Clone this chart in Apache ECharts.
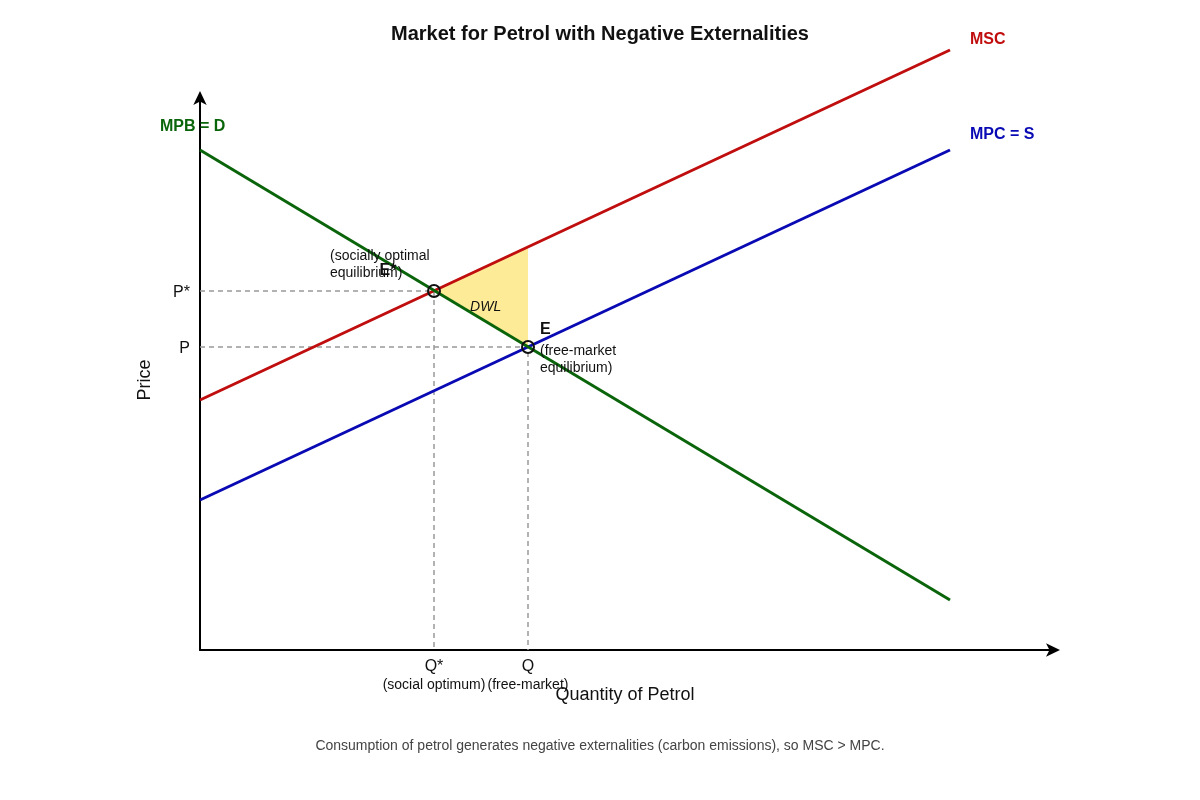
<!DOCTYPE html>
<html><head><meta charset="utf-8">
<script src="https://cdn.jsdelivr.net/npm/echarts@6/dist/echarts.min.js"></script>
<style>html,body{margin:0;padding:0;background:#fff}#c{width:1200px;height:800px}</style>
</head><body><div id="c"></div>
<script>
// ---- data ----
const mpb = [[7.5, 0.5], [0, 5]];      // demand (ordered so the end label sits at the left)
const msc = [[0, 2.5], [7.5, 6]];
const mpc = [[0, 1.5], [7.5, 5]];
const equilibria = [[2.34, 3.59], [3.28, 3.03]];   // E*, E
const eqNames = ['E*', 'E'];
const eqNotes = ['(socially optimal\nequilibrium)', '(free-market\nequilibrium)'];
const dwl = [[2.34, 3.59], [3.28, 4.03], [3.28, 3.03]];
const xTicks = [2.34, 3.28];
const xTickLabels = ['Q*', 'Q'];
const xTickNotes = ['(social optimum)', '(free-market)'];
const yTicks = [3.59, 3.03];
const yTickLabels = ['P*', 'P'];

const FONT = '"Liberation Sans", Arial, sans-serif';
const RED = '#c00d0d', BLUE = '#0a0ab4', GREEN = '#0a650a';

const guideStar = [[0, equilibria[0][1]], [equilibria[0][0], equilibria[0][1]], [equilibria[0][0], 0]];
const guideFree = [[0, equilibria[1][1]], [equilibria[1][0], equilibria[1][1]], [equilibria[1][0], 0]];

const chart = echarts.init(document.getElementById('c'), null, {renderer: 'canvas'});
const dashed = {color: '#999', width: 1.5, type: [5, 4]};

chart.setOption({
  animation: false,
  textStyle: {fontFamily: FONT},
  title: [
    {text: 'Market for Petrol with Negative Externalities', left: 'center', top: 19,
     textStyle: {fontFamily: FONT, fontSize: 20, fontWeight: 'bold', color: '#111'}},
    {text: 'Consumption of petrol generates negative externalities (carbon emissions), so MSC > MPC.',
     left: 'center', top: 734, textStyle: {fontFamily: FONT, fontSize: 14, fontWeight: 'normal', color: '#444'}}
  ],
  grid: {left: 200, top: 100, width: 850, height: 550, containLabel: false},
  xAxis: {
    type: 'value', min: 0, max: 8.5,
    name: 'Quantity of Petrol', nameLocation: 'middle', nameGap: 36, nameMoveOverlap: false,
    nameTextStyle: {fontFamily: FONT, fontSize: 18, color: '#111'},
    axisLine: {show: true, onZero: false, symbol: ['none', 'arrow'], symbolSize: [10, 14], symbolOffset: [0, 10],
               lineStyle: {color: '#000', width: 2}},
    axisTick: {show: false}, splitLine: {show: false},
    axisLabel: {
      customValues: xTicks, margin: 8, showMinLabel: true, showMaxLabel: true, hideOverlap: false,
      formatter: v => { const i = xTicks.indexOf(v); return i < 0 ? '' : '{a|' + xTickLabels[i] + '}\n{b|' + xTickNotes[i] + '}'; },
      rich: {a: {fontFamily: FONT, fontSize: 16, color: '#111', lineHeight: 18},
             b: {fontFamily: FONT, fontSize: 14, color: '#111', lineHeight: 18}}
    }
  },
  yAxis: {
    type: 'value', min: 0, max: 5.5,
    name: 'Price', nameLocation: 'middle', nameGap: 46, nameRotate: 90,
    nameTextStyle: {fontFamily: FONT, fontSize: 18, color: '#111', padding: [0, 10, 0, 0]},
    axisLine: {show: true, onZero: false, symbol: ['none', 'arrow'], symbolSize: [10, 14], symbolOffset: [0, 9],
               lineStyle: {color: '#000', width: 2}},
    axisTick: {show: false}, splitLine: {show: false},
    axisLabel: {
      customValues: yTicks, margin: 10, hideOverlap: false,
      formatter: v => { const i = yTicks.indexOf(v); return i < 0 ? '' : '{p|' + yTickLabels[i] + '}'; },
      rich: {p: {fontFamily: FONT, fontSize: 16, color: '#111', padding: [4, 0, 0, 0]}}
    }
  },
  series: [
    {type: 'custom', name: 'DWL', clip: false, z: 1, data: [dwl[0]],
     renderItem: (params, api) => {
       const pts = dwl.map(p => api.coord(p));
       const cx = (pts[0][0] + pts[1][0] + pts[2][0]) / 3, cy = (pts[0][1] + pts[1][1] + pts[2][1]) / 3;
       return {type: 'group', children: [
         {type: 'polygon', shape: {points: pts}, style: {fill: '#fdeb97'}},
         {type: 'text', x: cx - 11, y: cy + 12, style: {text: 'DWL', font: 'italic 14px ' + FONT, fill: '#111', align: 'center', verticalAlign: 'middle'}}
       ]};
     }},
    {type: 'line', data: guideStar, showSymbol: false, lineStyle: dashed, z: 2, silent: true},
    {type: 'line', data: guideFree, showSymbol: false, lineStyle: dashed, z: 2, silent: true},
    {type: 'line', name: 'MSC', data: msc, showSymbol: false, clip: false, z: 3, lineStyle: {color: RED, width: 3},
     endLabel: {show: true, formatter: 'MSC', offset: [12, -10], color: RED, fontFamily: FONT, fontSize: 16, fontWeight: 'bold'}},
    {type: 'line', name: 'MPC = S', data: mpc, showSymbol: false, clip: false, z: 3, lineStyle: {color: BLUE, width: 3},
     endLabel: {show: true, formatter: 'MPC = S', offset: [12, -15], color: BLUE, fontFamily: FONT, fontSize: 16, fontWeight: 'bold'}},
    {type: 'line', name: 'MPB = D', data: mpb, showSymbol: false, clip: false, z: 3, lineStyle: {color: GREEN, width: 3},
     endLabel: {show: true, formatter: 'MPB = D', offset: [-48, -23], color: GREEN, fontFamily: FONT, fontSize: 16, fontWeight: 'bold'}},
    {type: 'custom', name: 'equilibria', clip: false, z: 5, data: equilibria,
     renderItem: (params, api) => {
       const i = params.dataIndex;
       const c = api.coord([api.value(0), api.value(1)]);
       const nameOff = i === 0 ? [-46, -20] : [12, -17];
       const noteOff = i === 0 ? [-104, -43] : [12, -4];
       return {type: 'group', children: [
         {type: 'text', x: c[0] + noteOff[0], y: c[1] + noteOff[1],
          style: {text: eqNotes[i], font: '14px ' + FONT, fill: '#111', align: 'left', verticalAlign: 'top', lineHeight: 17}},
         {type: 'text', x: c[0] + nameOff[0], y: c[1] + nameOff[1],
          style: {text: eqNames[i], font: 'bold 16px ' + FONT, fill: '#111', align: i === 0 ? 'center' : 'left', verticalAlign: 'middle'}},
         {type: 'circle', shape: {cx: c[0], cy: c[1], r: 6}, style: {fill: 'none', stroke: '#111', lineWidth: 2}}
       ]};
     }}
  ]
});
</script></body></html>
